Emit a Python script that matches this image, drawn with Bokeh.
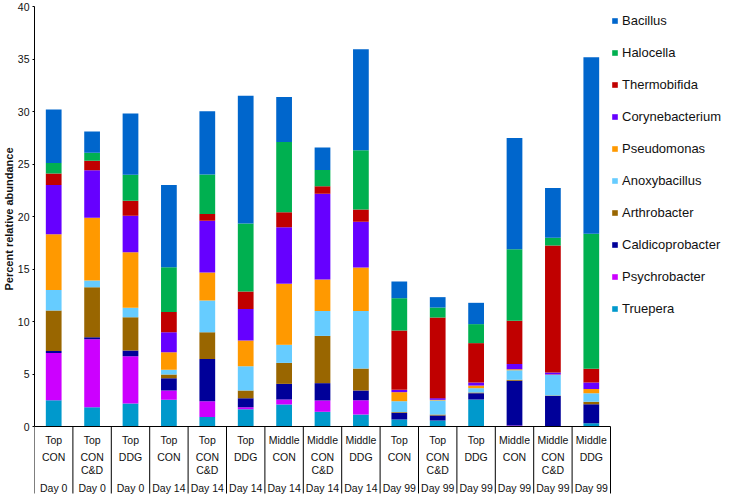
from bokeh.plotting import figure
from bokeh.models import Range1d, FixedTicker, Legend, LegendItem, ColumnDataSource, Title
from bokeh.core.properties import value
from bokeh.embed import file_html
from bokeh.resources import INLINE

# ---- data ----
positions = ["Top", "Top", "Top", "Top", "Top", "Top", "Middle", "Middle", "Middle",
             "Top", "Top", "Top", "Middle", "Middle", "Middle"]
treatments = ["CON", "CON C&D", "DDG"] * 5
days = ["Day 0"] * 3 + ["Day 14"] * 6 + ["Day 99"] * 6

series_names = ["Truepera", "Psychrobacter", "Caldicoprobacter", "Arthrobacter", "Anoxybacillus",
                "Pseudomonas", "Corynebacterium", "Thermobifida", "Halocella", "Bacillus"]
series_colors = ["#0099CC", "#CC00FF", "#000099", "#996600", "#66CCFF",
                 "#FF9900", "#6600FF", "#C00000", "#00B050", "#0066CC"]

truepera = [2.5, 1.84, 2.2, 2.54, 0.9, 1.65, 2.1, 1.4, 1.14, 0.67, 0.57, 2.57, 0.05, 0.05, 0.32]
psychrobacter = [4.5, 6.46, 4.5, 0.89, 1.5, 0.19, 0.47, 1.08, 1.36, 0.0, 0.0, 0.0, 0.05, 0.0, 0.0]
caldicoprobacter = [0.2, 0.2, 0.54, 1.17, 4.04, 0.86, 1.49, 1.65, 0.93, 0.63, 0.48, 0.6, 4.25, 2.85, 1.81]
arthrobacter = [3.85, 4.77, 3.16, 0.35, 2.54, 0.73, 2.0, 4.5, 2.09, 0.07, 0.09, 0.07, 0.1, 0.05, 0.22]
anoxybacillus = [1.95, 0.63, 0.9, 0.45, 3.02, 2.32, 1.72, 2.37, 5.48, 1.04, 1.34, 0.41, 0.9, 1.95, 0.82]
pseudomonas = [5.3, 5.97, 5.3, 1.68, 2.67, 2.44, 5.82, 3.0, 4.14, 0.86, 0.06, 0.25, 0.1, 0.05, 0.39]
corynebacterium = [4.7, 4.53, 3.46, 1.9, 4.93, 3.01, 5.38, 8.16, 4.35, 0.22, 0.16, 0.29, 0.5, 0.2, 0.63]
thermobifida = [1.1, 0.9, 1.44, 1.92, 0.65, 1.66, 1.43, 0.73, 1.18, 5.65, 7.68, 3.75, 4.13, 12.1, 1.3]
halocella = [1.0, 0.76, 2.47, 4.27, 3.75, 6.47, 6.69, 1.55, 5.65, 3.08, 0.95, 1.81, 6.79, 0.73, 12.86]
bacillus = [5.1, 2.04, 5.83, 7.83, 6.03, 12.17, 4.27, 2.13, 9.62, 1.59, 0.99, 2.03, 10.61, 4.73, 16.82]

y_ticks = [0, 5, 10, 15, 20, 25, 30, 35, 40]
y_label = "Percent relative abundance"

# ---- layout constants ----
FONT = "Liberation Sans"
n = len(positions)
xs = [i + 0.5 for i in range(n)]
Y_MIN = -6.571
TABLE_BOTTOM = -6.38
Y_MAX = 40

src = ColumnDataSource(dict(
    x=xs, Truepera=truepera, Psychrobacter=psychrobacter, Caldicoprobacter=caldicoprobacter,
    Arthrobacter=arthrobacter, Anoxybacillus=anoxybacillus, Pseudomonas=pseudomonas,
    Corynebacterium=corynebacterium, Thermobifida=thermobifida, Halocella=halocella, Bacillus=bacillus,
))

p = figure(frame_width=577, frame_height=489, output_backend="svg", toolbar_location=None,
           x_range=Range1d(0, n + 0.026), y_range=Range1d(Y_MIN, Y_MAX),
           min_border_left=33, min_border_right=121, min_border_top=6, min_border_bottom=0)
p.outline_line_color = None
p.xgrid.visible = False
p.ygrid.visible = False
p.xaxis.visible = False
p.background_fill_color = "white"

renderers = p.vbar_stack(series_names, x="x", width=0.41, source=src,
                         fill_color=series_colors, line_color=None)

# lines of the category table under the bars
bounds = list(range(n + 1))
p.segment(x0=bounds, y0=[0] * len(bounds), x1=bounds, y1=[TABLE_BOTTOM] * len(bounds),
          line_color="black", line_width=1)
p.segment(x0=[0], y0=[0], x1=[n], y1=[0], line_color="black", line_width=1)

line1 = [t.split(" ")[0] for t in treatments]
line2 = [" ".join(t.split(" ")[1:]) for t in treatments]
common = dict(text_align="center", text_baseline="middle", text_font=value(FONT),
              text_font_size="10.5px", text_color="#111111")
p.text(x=xs, y=[-1.24] * n, text=positions, **common)
p.text(x=xs, y=[-2.92] * n, text=line1, **common)
p.text(x=xs, y=[-4.1] * n, text=line2, **common)
p.text(x=xs, y=[-5.88] * n, text=days, **common)

ax = p.yaxis[0]
ax.ticker = FixedTicker(ticks=y_ticks)
ax.bounds = (0, 40)
ax.axis_line_color = "black"
ax.major_tick_line_color = "black"
ax.major_tick_out = 2
ax.major_tick_in = 0
ax.minor_tick_line_color = None
ax.major_label_standoff = 3
ax.major_label_text_font = FONT
ax.major_label_text_font_size = "10.5px"
ax.major_label_text_color = "#111111"

# y-axis title, centred on the 0-40 part of the axis as in the original
p.add_layout(Title(text=y_label, align="left", offset=205, standoff=0,
                   text_font=FONT, text_font_size="11px", text_font_style="bold",
                   text_color="#111111"), "left")

items = [LegendItem(label=name, renderers=[r]) for name, r in zip(series_names, renderers)]
items.reverse()
legend = Legend(items=items, location="top_left", orientation="vertical",
                glyph_width=7, glyph_height=7, label_standoff=4, label_height=28, spacing=4,
                padding=5, margin=0, border_line_color=None, background_fill_alpha=0,
                label_text_font=FONT, label_text_font_size="13px", label_text_color="#111111")
p.add_layout(legend, "right")

open("out.html", "w").write(file_html(p, INLINE))
